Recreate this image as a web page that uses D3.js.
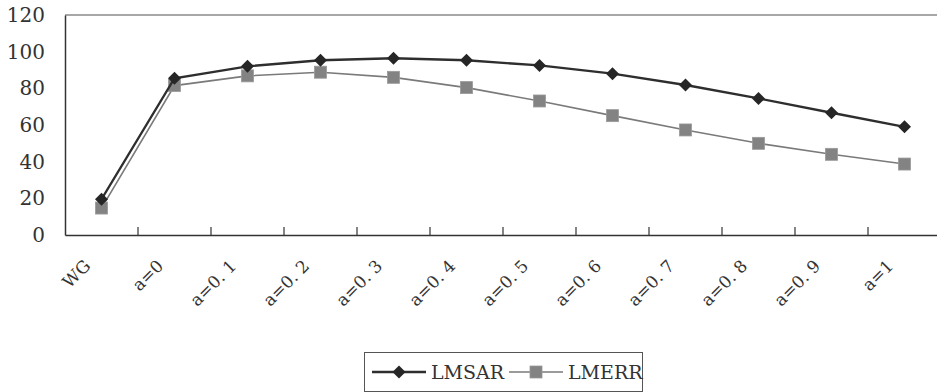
<!DOCTYPE html>
<html><head><meta charset="utf-8">
<script src="https://cdn.jsdelivr.net/npm/d3@7/dist/d3.min.js"></script>
<style>body{margin:0;background:#fff;overflow:hidden}svg{display:block}</style>
</head><body><svg id="c" width="937" height="392"></svg>
<script>
const categories = ["WG","a=0","a=0. 1","a=0. 2","a=0. 3","a=0. 4","a=0. 5","a=0. 6","a=0. 7","a=0. 8","a=0. 9","a=1"];
const lmsar = [19.5, 85.5, 92, 95.3, 96.4, 95.3, 92.5, 88, 81.8, 74.5, 66.7, 59];
const lmerr = [14.7, 81.5, 86.8, 88.8, 86, 80.4, 73.1, 65.1, 57.3, 50, 44, 38.7];
const yTicks = [0, 20, 40, 60, 80, 100, 120];
const seriesNames = ["LMSAR", "LMERR"];

(function () {
const svg = d3.select("#c");
const mL = 65, mR = 941, mT = 15, mB = 235;
const x = d3.scaleBand().domain(categories).range([mL, mR]);
const y = d3.scaleLinear().domain([0, 120]).range([mB, mT]);
const font = "DejaVu Serif";
const txt = "#333";
const cx = d => x(d) + x.bandwidth()/2;

svg.append("line").attr("x1", mL).attr("x2", mR).attr("y1", y(120)).attr("y2", y(120))
  .attr("stroke", "#8a8a8a").attr("stroke-width", 1.6);

const ya = svg.append("g").attr("transform", `translate(${mL},0)`)
  .call(d3.axisLeft(y).tickValues(yTicks).tickSize(0).tickPadding(20));
ya.select(".domain").attr("stroke", "#333").attr("stroke-width", 1.5);
ya.selectAll("text").attr("font-family", font).attr("font-size", 20).attr("fill", txt);

const xa = svg.append("g").attr("transform", `translate(0,${mB})`)
  .call(d3.axisBottom(x).tickSize(0).tickFormat(""));
xa.select(".domain").attr("stroke", "#333").attr("stroke-width", 1.5);
svg.append("g").selectAll("line").data(categories.slice(1)).join("line")
  .attr("x1", d => x(d)).attr("x2", d => x(d))
  .attr("y1", mB).attr("y2", mB - 8)
  .attr("stroke", "#333").attr("stroke-width", 1.2);

// x labels rotated -45 degrees
svg.append("g").selectAll("text").data(categories).join("text")
  .attr("transform", d => `translate(${cx(d) - 10},${mB + 32}) rotate(-45)`)
  .attr("text-anchor", "end")
  .attr("font-family", font).attr("font-size", 17).attr("fill", txt)
  .text(d => d);

const line = d3.line().x((d, i) => cx(categories[i])).y(d => y(d));

svg.append("path").datum(lmerr).attr("d", line).attr("fill", "none")
  .attr("stroke", "#7a7a7a").attr("stroke-width", 1.6);
svg.append("g").selectAll("rect").data(lmerr).join("rect")
  .attr("x", (d, i) => cx(categories[i]) - 6).attr("y", d => y(d) - 6)
  .attr("width", 12).attr("height", 12)
  .attr("fill", "#838383").attr("stroke", "#9a9a9a").attr("stroke-width", 0.8);

svg.append("path").datum(lmsar).attr("d", line).attr("fill", "none")
  .attr("stroke", "#2e2e2e").attr("stroke-width", 2.4);
const diamond = d3.symbol().type(d3.symbolSquare).size(85);
svg.append("g").selectAll("path").data(lmsar).join("path")
  .attr("d", diamond)
  .attr("transform", (d, i) => `translate(${cx(categories[i])},${y(d)}) rotate(45)`)
  .attr("fill", "#262626");

const lg = svg.append("g");
lg.append("rect").attr("x", 364.5).attr("y", 352.5).attr("width", 278).attr("height", 39)
  .attr("fill", "#fff").attr("stroke", "#555").attr("stroke-width", 1);
lg.append("line").attr("x1", 372).attr("x2", 426).attr("y1", 372).attr("y2", 372)
  .attr("stroke", "#2e2e2e").attr("stroke-width", 2.4);
lg.append("path").attr("d", diamond).attr("transform", "translate(399,372) rotate(45)").attr("fill", "#262626");
lg.append("text").attr("x", 431).attr("y", 379).attr("font-family", font).attr("font-size", 19)
  .attr("fill", txt).text(seriesNames[0]);
lg.append("line").attr("x1", 509).attr("x2", 563).attr("y1", 372).attr("y2", 372)
  .attr("stroke", "#7a7a7a").attr("stroke-width", 1.6);
lg.append("rect").attr("x", 530).attr("y", 366).attr("width", 12).attr("height", 12)
  .attr("fill", "#838383").attr("stroke", "#9a9a9a").attr("stroke-width", 0.8);
lg.append("text").attr("x", 568).attr("y", 379).attr("font-family", font).attr("font-size", 19)
  .attr("fill", txt).text(seriesNames[1]);
})();
</script></body></html>
